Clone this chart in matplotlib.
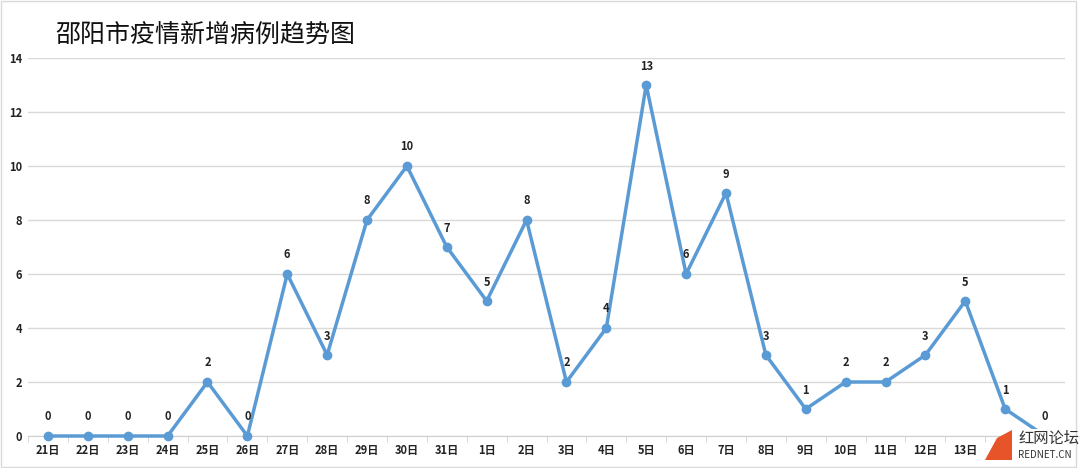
import matplotlib.pyplot as plt
from matplotlib.patches import Rectangle, Polygon

plt.rcParams['font.family'] = ['Noto Sans CJK SC', 'DejaVu Sans']

# 日期和每日新增病例
days = ["21日", "22日", "23日", "24日", "25日", "26日", "27日", "28日", "29日", "30日", "31日",
        "1日", "2日", "3日", "4日", "5日", "6日", "7日", "8日", "9日", "10日", "11日", "12日",
        "13日", "14日", "15日"]
cases = [0, 0, 0, 0, 2, 0, 6, 3, 8, 10, 7, 5, 8, 2, 4, 13, 6, 9, 3, 1, 2, 2, 3, 5, 1, 0]
yticks = [0, 2, 4, 6, 8, 10, 12, 14]

line_color = "#5B9BD5"

fig = plt.figure(figsize=(10.8, 4.68), dpi=100)
ax = fig.add_axes([28 / 1080, 1 - 436 / 468, (1065 - 28) / 1080, (436 - 58) / 468])

x = list(range(len(cases)))
ax.plot(x, cases, color=line_color, linewidth=2.5, marker="o", markersize=6, zorder=3, clip_on=False)

for xi, v in zip(x, cases):
    ax.annotate(str(v), (xi, v), xytext=(0, 9), textcoords="offset points",
                ha="center", va="bottom", fontsize=8, fontweight="bold", color="#222222")

ax.set_xlim(-0.5, len(cases) - 0.5)
ax.set_ylim(0, 14)
ax.set_yticks(yticks)
ax.set_yticklabels([str(t) for t in yticks], fontsize=8, fontweight="bold", color="#222222")
ax.grid(axis="y", color="#d9d9d9", linewidth=1)
ax.set_axisbelow(True)

ax.set_xticks(x)
ax.set_xticklabels(days, fontsize=8, fontweight="bold", color="#222222")
# 最后两个日期被水印挡住
ax.get_xticklabels()[-1].set_visible(False)
ax.set_xticks([i + 0.5 for i in range(-1, len(cases))], minor=True)
ax.tick_params(axis="x", which="major", length=0, pad=6)
ax.tick_params(axis="x", which="minor", length=4, color="#d0d0d0", direction="out")
ax.tick_params(axis="y", length=0, pad=4)

for side in ["top", "right", "left"]:
    ax.spines[side].set_visible(False)
ax.spines["bottom"].set_color("#d0d0d0")

fig.text(55 / 1080, 1 - 35 / 468, "邵阳市疫情新增病例趋势图", fontsize=18, va="center", ha="left", color="#111111")

# 外框
fig.patches.append(Rectangle((0.001, 0.003), 1075 / 1080, 0.995, transform=fig.transFigure,
                             fill=False, edgecolor="#d9d9d9", linewidth=1))

# 水印
fig.patches.append(Rectangle((1012 / 1080, 3 / 468), 62 / 1080, 36 / 468, transform=fig.transFigure,
                             facecolor="white", edgecolor="none", zorder=5))
fig.patches.append(Polygon([(985 / 1080, 8 / 468), (1012 / 1080, 8 / 468), (1012 / 1080, 38 / 468),
                            (997 / 1080, 30 / 468)], closed=True, transform=fig.transFigure,
                           facecolor="#E8542A", edgecolor="none", zorder=6))
fig.text(1018 / 1080, 1 - 438 / 468, "红网论坛", fontsize=11, color="#333333", ha="left", va="center", zorder=7)
fig.text(1018 / 1080, 1 - 455 / 468, "REDNET.CN", fontsize=7, color="#333333", ha="left", va="center", zorder=7)

fig.savefig("out.png", dpi=100)
